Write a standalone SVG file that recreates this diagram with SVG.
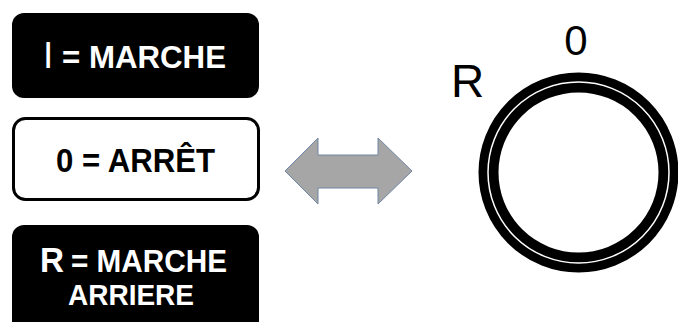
<svg xmlns="http://www.w3.org/2000/svg" width="678" height="322" viewBox="0 0 678 322">
<style>
.t{font-family:"Liberation Sans",Arial,sans-serif;font-weight:bold}
.r{font-family:"Liberation Sans",Arial,sans-serif;font-weight:normal}
.w{fill:#ffffff}
.k{fill:#000000}
</style>
<rect width="678" height="322" fill="#ffffff"/>
<g id="node-marche">
<rect x="12" y="13" width="247" height="85" rx="12" fill="#000000"/>
<text class="r w" x="43" y="68" font-size="37">I</text>
<text class="t w" x="62" y="68" font-size="31" textLength="164" lengthAdjust="spacingAndGlyphs">= MARCHE</text>
</g>
<g id="node-arret">
<rect x="13.5" y="118.5" width="245" height="81" rx="12" fill="#ffffff" stroke="#000000" stroke-width="3"/>
<text class="t k" x="56" y="172" font-size="33" textLength="159" lengthAdjust="spacingAndGlyphs">0 = ARRÊT</text>
</g>
<g id="node-marche-arriere">
<rect x="12" y="225" width="247" height="110" rx="12" fill="#000000"/>
<text class="t w" x="40" y="272" font-size="35" textLength="24" lengthAdjust="spacingAndGlyphs">R</text>
<text class="t w" x="71" y="272" font-size="31" textLength="156" lengthAdjust="spacingAndGlyphs">= MARCHE</text>
<text class="t w" x="68" y="305" font-size="29" textLength="126" lengthAdjust="spacingAndGlyphs">ARRIERE</text>
</g>
<g id="connectors">
<polygon points="285,171 318,138 318,155 378,155 378,138 412,171 378,204 378,188 318,188 318,204" fill="#a6a6a6" stroke="#7186a3" stroke-width="1"/>
</g>
<g id="node-selector">
<circle cx="578.5" cy="172.5" r="90" fill="none" stroke="#000000" stroke-width="20"/>
<circle cx="578.5" cy="172.5" r="90.5" fill="none" stroke="#ffffff" stroke-width="1.5"/>
<text class="r k" x="576" y="55" font-size="42" text-anchor="middle">0</text>
<text class="r k" x="451" y="97" font-size="46">R</text>
</g>
</svg>
